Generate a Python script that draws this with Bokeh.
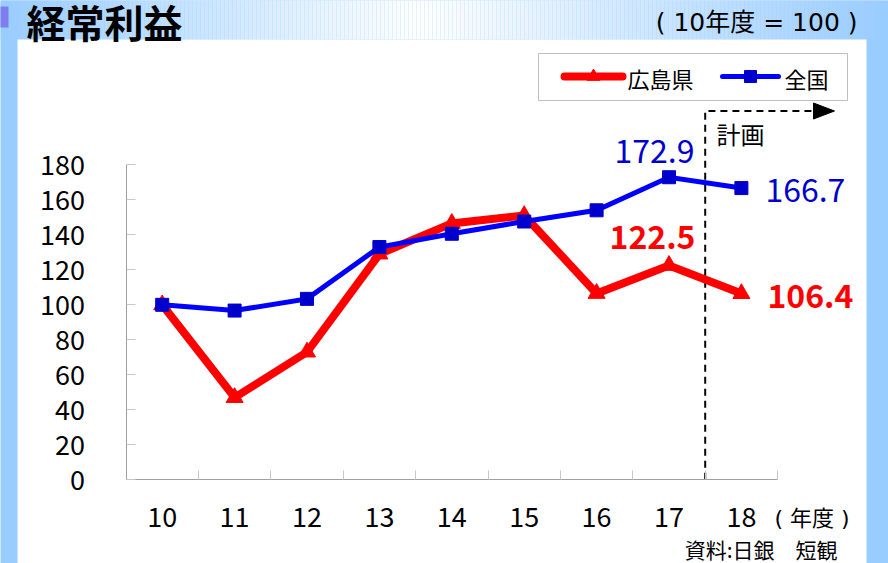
from bokeh.plotting import figure
from bokeh.models import LinearAxis, FixedTicker, Range1d
from bokeh.embed import file_html
from bokeh.resources import INLINE
from bokeh.core.properties import value

# ---------------- data ----------------
years = ["10", "11", "12", "13", "14", "15", "16", "17", "18"]
hiroshima = [100, 47, 73, 129, 146.5, 151, 106.5, 122.5, 106.4]
zenkoku = [100, 96.7, 103.4, 133, 140.6, 147.6, 154, 172.9, 166.7]
y_ticks = [0, 20, 40, 60, 80, 100, 120, 140, 160, 180]
series_names = ["広島県", "全国"]
title_text = "経常利益"
base_note = "( 10年度 = 100 )"
x_unit = "( 年度 )"
plan_text = "計画"
source_text = "資料:日銀　短観"

FONT = "Noto Sans CJK JP"
FONT2 = "DejaVu Sans, Noto Sans CJK JP"
RED = "#FF0000"
BLUE = "#0000FF"
DBLUE = "#0000CC"
BG = "#99CCFF"

# ---------------- pixel <-> data mapping ----------------
W, H = 888, 563
X0, DX = 161.7, 72.4      # pixel of first category, spacing
Y0, DY = 479.3, 1.75      # pixel of value 0, px per unit


def dx(px):
    return (px - X0) / DX


def dy(py):
    return (Y0 - py) / DY


xs = list(range(len(years)))

p = figure(width=W, height=H,
           x_range=Range1d(dx(0), dx(W)),
           y_range=Range1d(dy(H), dy(0)),
           x_axis_type=None, y_axis_type=None,
           toolbar_location=None, output_backend="svg",
           min_border=0, outline_line_color=None,
           background_fill_color=BG, border_fill_color=BG)
p.title.visible = False

# ---- top gradient band ----
n = 222
lefts, rights, cols = [], [], []
for k in range(n):
    a = k * W / n
    b = (k + 1) * W / n
    c = (a + b) / 2
    if c < 420:
        t = c / 420
    else:
        t = (W - c) / (W - 420)
    t = max(0.0, min(1.0, t))
    r = int(round(153 + (255 - 153) * t))
    g = int(round(204 + (255 - 204) * t))
    lefts.append(dx(a))
    rights.append(dx(b))
    cols.append("#%02x%02x%02x" % (r, g, 255))
p.quad(left=lefts, right=rights, top=dy(-5), bottom=dy(39), fill_color=cols, line_color=None)
# small purple mark
p.quad(left=dx(-2), right=dx(8), top=dy(6), bottom=dy(27), fill_color="#7E7EF0", line_color=None)

# ---- white panel ----
p.quad(left=dx(17), right=dx(866), top=dy(39), bottom=dy(600), fill_color="white", line_color=None)

# ---- title texts ----
p.text(x=[dx(26)], y=[dy(20)], text=[title_text], text_font=value(FONT), text_font_style="bold",
       text_font_size="39px", text_baseline="middle", text_color="black")
p.text(x=[dx(857)], y=[dy(22)], text=[base_note], text_font=value(FONT2),
       text_font_size="25px", text_baseline="middle", text_align="right", text_color="black")

# ---- plan marker (dashed line with arrow) ----
p.line(x=[7.5, 7.5, dx(814)], y=[0, dy(110.5), dy(110.5)], line_color="black", line_width=2,
       line_dash="7 5")
p.patch(x=[dx(813), dx(813), dx(834)], y=[dy(102.5), dy(118.5), dy(110.5)], fill_color="black",
        line_color="black", line_width=1)
p.text(x=[dx(716)], y=[dy(133)], text=[plan_text], text_font=value(FONT), text_font_size="24px",
       text_baseline="middle", text_color="black")

# ---- axes ----
yaxis = LinearAxis(fixed_location=-0.5, bounds=(0, 180), ticker=FixedTicker(ticks=y_ticks))
yaxis.axis_line_color = "#A0A0A0"
yaxis.major_tick_line_color = "#C8C8C8"
yaxis.major_tick_in = 9
yaxis.major_tick_out = 0
yaxis.minor_tick_line_color = None
yaxis.major_label_standoff = 41
yaxis.major_label_text_font = FONT
yaxis.major_label_text_font_size = "27px"
yaxis.major_label_text_color = "black"
p.add_layout(yaxis, "left")

xaxis = LinearAxis(fixed_location=0, bounds=(-0.5, len(years) - 0.5),
                   ticker=FixedTicker(ticks=xs, minor_ticks=[i - 0.5 for i in range(len(years) + 1)]))
xaxis.major_label_overrides = {i: years[i] for i in xs}
xaxis.axis_line_color = "#A0A0A0"
xaxis.major_tick_line_color = None
xaxis.major_tick_in = 0
xaxis.major_tick_out = 0
xaxis.minor_tick_line_color = "#C8C8C8"
xaxis.minor_tick_in = 9
xaxis.minor_tick_out = 0
xaxis.major_label_standoff = 27
xaxis.major_label_text_font = FONT
xaxis.major_label_text_font_size = "27px"
xaxis.major_label_text_color = "black"
p.add_layout(xaxis, "below")

p.text(x=[dx(774)], y=[dy(518)], text=[x_unit], text_font=value(FONT2), text_font_size="22px",
       text_baseline="middle", text_color="black")
p.text(x=[dx(837)], y=[dy(548)], text=[source_text], text_font=value(FONT), text_font_size="21px",
       text_baseline="middle", text_align="right", text_color="black")

# ---- series ----
p.line(x=xs, y=hiroshima, line_color=RED, line_width=8, line_join="miter")
p.scatter(x=xs, y=hiroshima, marker="triangle", size=17, fill_color=RED, line_color=RED)
p.line(x=xs, y=zenkoku, line_color=BLUE, line_width=5, line_join="miter")
p.scatter(x=xs, y=zenkoku, marker="square", size=13, fill_color=DBLUE, line_color=DBLUE)

# ---- value labels ----
i7, i8 = 7, 8
p.text(x=[i7 - 14.5 / DX], y=[zenkoku[i7] + 26.7 / DY], text=["%.1f" % zenkoku[i7]],
       text_font=value(FONT), text_font_size="32px", text_align="center", text_baseline="middle",
       text_color=DBLUE)
p.text(x=[i8 + 24 / DX], y=[zenkoku[i8] - 2.4 / DY], text=["%.1f" % zenkoku[i8]],
       text_font=value(FONT), text_font_size="32px", text_align="left", text_baseline="middle",
       text_color=DBLUE)
p.text(x=[i7 - 16.5 / DX], y=[hiroshima[i7] + 28 / DY], text=["%.1f" % hiroshima[i7]],
       text_font=value(FONT), text_font_size="32px", text_font_style="bold", text_align="center",
       text_baseline="middle", text_color=RED)
p.text(x=[i8 + 26 / DX], y=[hiroshima[i8] - 2 / DY], text=["%.1f" % hiroshima[i8]],
       text_font=value(FONT), text_font_size="32px", text_font_style="bold", text_align="left",
       text_baseline="middle", text_color=RED)

# ---- legend (drawn box) ----
p.quad(left=dx(538), right=dx(847), top=dy(53), bottom=dy(100), fill_color="white",
       line_color="#BFBFBF", line_width=1)
ly = dy(76)
p.line(x=[dx(564), dx(622)], y=[ly, ly], line_color=RED, line_width=8, line_cap="round")
p.scatter(x=[dx(593)], y=[ly], marker="triangle", size=13, fill_color=RED, line_color=RED)
p.text(x=[dx(627)], y=[dy(77)], text=[series_names[0]], text_font=value(FONT), text_font_size="22px",
       text_baseline="middle", text_color="black")
p.line(x=[dx(722), dx(778)], y=[ly, ly], line_color=BLUE, line_width=5, line_cap="round")
p.scatter(x=[dx(750)], y=[ly], marker="square", size=12, fill_color=DBLUE, line_color=DBLUE)
p.text(x=[dx(784)], y=[dy(77)], text=[series_names[1]], text_font=value(FONT), text_font_size="22px",
       text_baseline="middle", text_color="black")

open("out.html", "w").write(file_html(p, INLINE))
